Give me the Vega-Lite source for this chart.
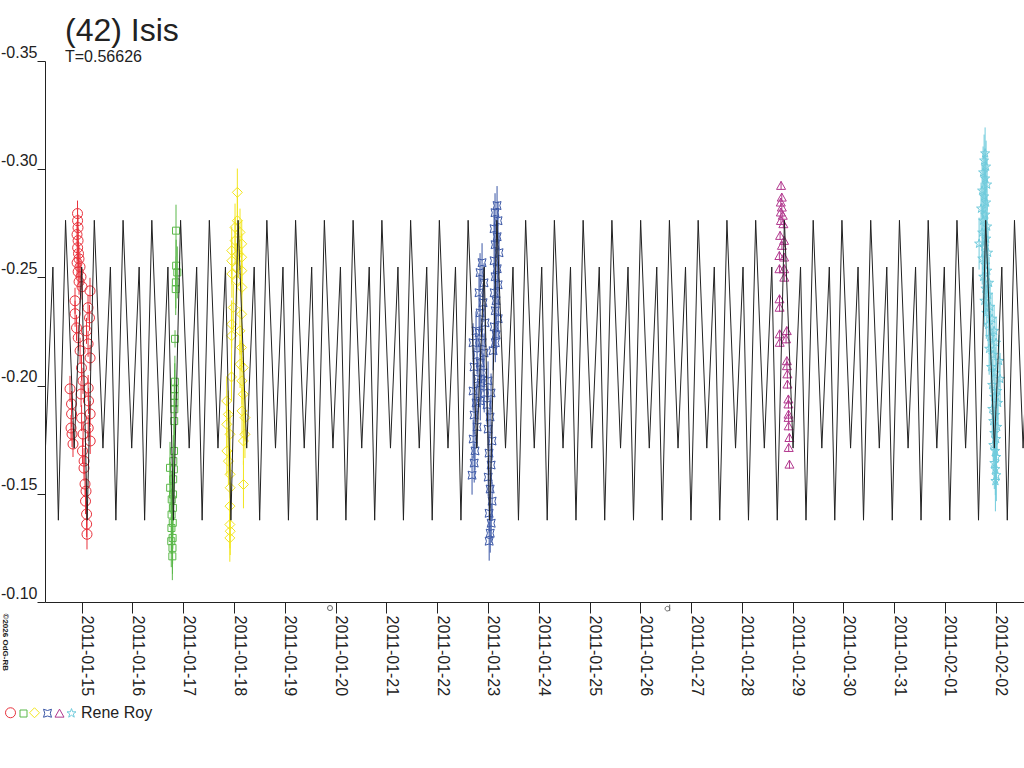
{
"$schema":"https://vega.github.io/schema/vega-lite/v6.json",
"width":979,"height":541,
"autosize":{"type":"none"},
"padding":{"left":45,"top":61,"right":0,"bottom":166},
"background":"white",
"config":{"view":{"stroke":null},"font":"Liberation Sans"},
"title":{"text":"(42) Isis","subtitle":"T=0.56626","anchor":"start","frame":"group","orient":"top","fontSize":32,"fontWeight":"normal","font":"Liberation Sans","color":"#222222","subtitleFontSize":16,"subtitleFont":"Liberation Sans","subtitleColor":"#222222","subtitlePadding":1,"offset":-22,"dx":20},
"datasets":{
"obs":[
{"time":"2011-01-14T22:01","mag":-0.2795,"err":0.006,"night":"2011-01-14"},
{"time":"2011-01-14T22:03","mag":-0.2762,"err":0.006,"night":"2011-01-14"},
{"time":"2011-01-14T22:15","mag":-0.2730,"err":0.006,"night":"2011-01-14"},
{"time":"2011-01-14T21:47","mag":-0.2698,"err":0.006,"night":"2011-01-14"},
{"time":"2011-01-14T22:17","mag":-0.2670,"err":0.006,"night":"2011-01-14"},
{"time":"2011-01-14T22:05","mag":-0.2637,"err":0.006,"night":"2011-01-14"},
{"time":"2011-01-14T22:29","mag":-0.2610,"err":0.006,"night":"2011-01-14"},
{"time":"2011-01-14T22:43","mag":-0.2586,"err":0.006,"night":"2011-01-14"},
{"time":"2011-01-14T21:49","mag":-0.2568,"err":0.006,"night":"2011-01-14"},
{"time":"2011-01-14T23:12","mag":-0.2549,"err":0.006,"night":"2011-01-14"},
{"time":"2011-01-14T22:19","mag":-0.2526,"err":0.006,"night":"2011-01-14"},
{"time":"2011-01-14T23:40","mag":-0.2503,"err":0.006,"night":"2011-01-14"},
{"time":"2011-01-14T22:45","mag":-0.2480,"err":0.006,"night":"2011-01-14"},
{"time":"2011-01-15T00:09","mag":-0.2457,"err":0.006,"night":"2011-01-14"},
{"time":"2011-01-14T20:50","mag":-0.2392,"err":0.006,"night":"2011-01-14"},
{"time":"2011-01-14T20:52","mag":-0.2332,"err":0.006,"night":"2011-01-14"},
{"time":"2011-01-14T21:33","mag":-0.2267,"err":0.006,"night":"2011-01-14"},
{"time":"2011-01-14T22:21","mag":-0.2221,"err":0.006,"night":"2011-01-14"},
{"time":"2011-01-15T03:55","mag":-0.2438,"err":0.006,"night":"2011-01-14"},
{"time":"2011-01-15T02:59","mag":-0.2360,"err":0.006,"night":"2011-01-14"},
{"time":"2011-01-15T03:41","mag":-0.2313,"err":0.006,"night":"2011-01-14"},
{"time":"2011-01-15T02:16","mag":-0.2253,"err":0.006,"night":"2011-01-14"},
{"time":"2011-01-15T03:01","mag":-0.2193,"err":0.006,"night":"2011-01-14"},
{"time":"2011-01-15T03:57","mag":-0.2128,"err":0.006,"night":"2011-01-14"},
{"time":"2011-01-14T23:14","mag":-0.2161,"err":0.006,"night":"2011-01-14"},
{"time":"2011-01-14T23:54","mag":-0.2082,"err":0.006,"night":"2011-01-14"},
{"time":"2011-01-15T00:37","mag":-0.2022,"err":0.006,"night":"2011-01-14"},
{"time":"2011-01-14T23:42","mag":-0.1961,"err":0.006,"night":"2011-01-14"},
{"time":"2011-01-15T03:03","mag":-0.1989,"err":0.006,"night":"2011-01-14"},
{"time":"2011-01-15T03:13","mag":-0.1929,"err":0.006,"night":"2011-01-14"},
{"time":"2011-01-15T03:59","mag":-0.1869,"err":0.006,"night":"2011-01-14"},
{"time":"2011-01-15T03:05","mag":-0.1804,"err":0.006,"night":"2011-01-14"},
{"time":"2011-01-15T04:01","mag":-0.1744,"err":0.006,"night":"2011-01-14"},
{"time":"2011-01-14T18:28","mag":-0.1985,"err":0.006,"night":"2011-01-14"},
{"time":"2011-01-14T19:11","mag":-0.1915,"err":0.006,"night":"2011-01-14"},
{"time":"2011-01-14T19:13","mag":-0.1869,"err":0.006,"night":"2011-01-14"},
{"time":"2011-01-14T18:57","mag":-0.1804,"err":0.006,"night":"2011-01-14"},
{"time":"2011-01-14T19:25","mag":-0.1776,"err":0.006,"night":"2011-01-14"},
{"time":"2011-01-14T19:53","mag":-0.1730,"err":0.006,"night":"2011-01-14"},
{"time":"2011-01-14T23:56","mag":-0.1850,"err":0.006,"night":"2011-01-14"},
{"time":"2011-01-15T00:39","mag":-0.1776,"err":0.006,"night":"2011-01-14"},
{"time":"2011-01-15T00:23","mag":-0.1698,"err":0.006,"night":"2011-01-14"},
{"time":"2011-01-15T01:05","mag":-0.1619,"err":0.006,"night":"2011-01-14"},
{"time":"2011-01-15T01:34","mag":-0.1545,"err":0.006,"night":"2011-01-14"},
{"time":"2011-01-15T01:48","mag":-0.1466,"err":0.006,"night":"2011-01-14"},
{"time":"2011-01-15T02:18","mag":-0.1406,"err":0.006,"night":"2011-01-14"},
{"time":"2011-01-15T02:20","mag":-0.1360,"err":0.006,"night":"2011-01-14"},
{"time":"2011-01-15T02:30","mag":-0.1313,"err":0.007,"night":"2011-01-14"},
{"time":"2011-01-15T01:07","mag":-0.1651,"err":0.006,"night":"2011-01-14"},
{"time":"2011-01-15T02:02","mag":-0.1512,"err":0.006,"night":"2011-01-14"},
{"time":"2011-01-16T20:34","mag":-0.2716,"err":0.012,"night":"2011-01-16"},
{"time":"2011-01-16T20:38","mag":-0.2554,"err":0.012,"night":"2011-01-16"},
{"time":"2011-01-16T21:11","mag":-0.2523,"err":0.012,"night":"2011-01-16"},
{"time":"2011-01-16T20:30","mag":-0.2477,"err":0.012,"night":"2011-01-16"},
{"time":"2011-01-16T20:26","mag":-0.2446,"err":0.012,"night":"2011-01-16"},
{"time":"2011-01-16T20:06","mag":-0.2216,"err":0.004,"night":"2011-01-16"},
{"time":"2011-01-16T20:02","mag":-0.2018,"err":0.012,"night":"2011-01-16"},
{"time":"2011-01-16T19:58","mag":-0.1983,"err":0.012,"night":"2011-01-16"},
{"time":"2011-01-16T19:54","mag":-0.1952,"err":0.012,"night":"2011-01-16"},
{"time":"2011-01-16T19:50","mag":-0.1921,"err":0.012,"night":"2011-01-16"},
{"time":"2011-01-16T19:46","mag":-0.1891,"err":0.012,"night":"2011-01-16"},
{"time":"2011-01-16T19:42","mag":-0.1836,"err":0.012,"night":"2011-01-16"},
{"time":"2011-01-16T19:38","mag":-0.1698,"err":0.012,"night":"2011-01-16"},
{"time":"2011-01-16T19:18","mag":-0.1651,"err":0.012,"night":"2011-01-16"},
{"time":"2011-01-16T17:44","mag":-0.1620,"err":0.012,"night":"2011-01-16"},
{"time":"2011-01-16T19:34","mag":-0.1613,"err":0.012,"night":"2011-01-16"},
{"time":"2011-01-16T19:14","mag":-0.1567,"err":0.012,"night":"2011-01-16"},
{"time":"2011-01-16T17:48","mag":-0.1528,"err":0.012,"night":"2011-01-16"},
{"time":"2011-01-16T19:10","mag":-0.1497,"err":0.012,"night":"2011-01-16"},
{"time":"2011-01-16T18:32","mag":-0.1474,"err":0.012,"night":"2011-01-16"},
{"time":"2011-01-16T19:06","mag":-0.1435,"err":0.012,"night":"2011-01-16"},
{"time":"2011-01-16T18:28","mag":-0.1404,"err":0.012,"night":"2011-01-16"},
{"time":"2011-01-16T19:02","mag":-0.1366,"err":0.012,"night":"2011-01-16"},
{"time":"2011-01-16T18:24","mag":-0.1342,"err":0.012,"night":"2011-01-16"},
{"time":"2011-01-16T18:58","mag":-0.1296,"err":0.012,"night":"2011-01-16"},
{"time":"2011-01-16T18:20","mag":-0.1281,"err":0.012,"night":"2011-01-16"},
{"time":"2011-01-16T18:54","mag":-0.1250,"err":0.012,"night":"2011-01-16"},
{"time":"2011-01-16T18:50","mag":-0.1211,"err":0.011,"night":"2011-01-16"},
{"time":"2011-01-18T01:33","mag":-0.2893,"err":0.011,"night":"2011-01-17"},
{"time":"2011-01-18T01:35","mag":-0.2762,"err":0.011,"night":"2011-01-17"},
{"time":"2011-01-18T00:28","mag":-0.2731,"err":0.011,"night":"2011-01-17"},
{"time":"2011-01-18T02:49","mag":-0.2708,"err":0.011,"night":"2011-01-17"},
{"time":"2011-01-18T00:30","mag":-0.2670,"err":0.011,"night":"2011-01-17"},
{"time":"2011-01-18T03:38","mag":-0.2655,"err":0.011,"night":"2011-01-17"},
{"time":"2011-01-17T22:54","mag":-0.2624,"err":0.011,"night":"2011-01-17"},
{"time":"2011-01-18T02:01","mag":-0.2608,"err":0.011,"night":"2011-01-17"},
{"time":"2011-01-18T03:36","mag":-0.2593,"err":0.011,"night":"2011-01-17"},
{"time":"2011-01-17T22:56","mag":-0.2577,"err":0.011,"night":"2011-01-17"},
{"time":"2011-01-18T01:16","mag":-0.2546,"err":0.011,"night":"2011-01-17"},
{"time":"2011-01-18T03:40","mag":-0.2531,"err":0.011,"night":"2011-01-17"},
{"time":"2011-01-17T22:58","mag":-0.2516,"err":0.011,"night":"2011-01-17"},
{"time":"2011-01-18T01:18","mag":-0.2485,"err":0.011,"night":"2011-01-17"},
{"time":"2011-01-18T03:42","mag":-0.2454,"err":0.011,"night":"2011-01-17"},
{"time":"2011-01-17T23:39","mag":-0.2361,"err":0.011,"night":"2011-01-17"},
{"time":"2011-01-18T03:34","mag":-0.2330,"err":0.011,"night":"2011-01-17"},
{"time":"2011-01-17T22:52","mag":-0.2284,"err":0.011,"night":"2011-01-17"},
{"time":"2011-01-18T02:47","mag":-0.2253,"err":0.011,"night":"2011-01-17"},
{"time":"2011-01-17T22:50","mag":-0.2230,"err":0.011,"night":"2011-01-17"},
{"time":"2011-01-18T03:32","mag":-0.2176,"err":0.011,"night":"2011-01-17"},
{"time":"2011-01-18T02:51","mag":-0.2099,"err":0.011,"night":"2011-01-17"},
{"time":"2011-01-17T22:48","mag":-0.2040,"err":0.011,"night":"2011-01-17"},
{"time":"2011-01-18T04:23","mag":-0.2083,"err":0.011,"night":"2011-01-17"},
{"time":"2011-01-18T03:44","mag":-0.2022,"err":0.011,"night":"2011-01-17"},
{"time":"2011-01-18T04:21","mag":-0.1960,"err":0.011,"night":"2011-01-17"},
{"time":"2011-01-17T20:32","mag":-0.1929,"err":0.011,"night":"2011-01-17"},
{"time":"2011-01-17T21:18","mag":-0.1867,"err":0.011,"night":"2011-01-17"},
{"time":"2011-01-18T03:46","mag":-0.1883,"err":0.011,"night":"2011-01-17"},
{"time":"2011-01-18T05:11","mag":-0.1852,"err":0.011,"night":"2011-01-17"},
{"time":"2011-01-17T20:34","mag":-0.1821,"err":0.011,"night":"2011-01-17"},
{"time":"2011-01-18T05:09","mag":-0.1775,"err":0.011,"night":"2011-01-17"},
{"time":"2011-01-17T22:06","mag":-0.1775,"err":0.011,"night":"2011-01-17"},
{"time":"2011-01-18T04:25","mag":-0.1744,"err":0.011,"night":"2011-01-17"},
{"time":"2011-01-17T20:36","mag":-0.1698,"err":0.011,"night":"2011-01-17"},
{"time":"2011-01-17T21:20","mag":-0.1651,"err":0.011,"night":"2011-01-17"},
{"time":"2011-01-17T22:08","mag":-0.1590,"err":0.011,"night":"2011-01-17"},
{"time":"2011-01-18T04:27","mag":-0.1543,"err":0.011,"night":"2011-01-17"},
{"time":"2011-01-17T22:10","mag":-0.1528,"err":0.011,"night":"2011-01-17"},
{"time":"2011-01-17T22:04","mag":-0.1443,"err":0.011,"night":"2011-01-17"},
{"time":"2011-01-17T22:02","mag":-0.1358,"err":0.011,"night":"2011-01-17"},
{"time":"2011-01-17T22:12","mag":-0.1327,"err":0.011,"night":"2011-01-17"},
{"time":"2011-01-17T22:00","mag":-0.1296,"err":0.011,"night":"2011-01-17"},
{"time":"2011-01-23T04:18","mag":-0.2832,"err":0.009,"night":"2011-01-22"},
{"time":"2011-01-23T03:21","mag":-0.2799,"err":0.009,"night":"2011-01-22"},
{"time":"2011-01-23T04:46","mag":-0.2762,"err":0.009,"night":"2011-01-22"},
{"time":"2011-01-23T02:53","mag":-0.2725,"err":0.009,"night":"2011-01-22"},
{"time":"2011-01-23T04:20","mag":-0.2688,"err":0.009,"night":"2011-01-22"},
{"time":"2011-01-23T03:23","mag":-0.2651,"err":0.009,"night":"2011-01-22"},
{"time":"2011-01-23T05:15","mag":-0.2614,"err":0.009,"night":"2011-01-22"},
{"time":"2011-01-23T02:55","mag":-0.2577,"err":0.009,"night":"2011-01-22"},
{"time":"2011-01-23T04:22","mag":-0.2540,"err":0.009,"night":"2011-01-22"},
{"time":"2011-01-23T03:25","mag":-0.2503,"err":0.009,"night":"2011-01-22"},
{"time":"2011-01-23T04:48","mag":-0.2466,"err":0.009,"night":"2011-01-22"},
{"time":"2011-01-23T02:57","mag":-0.2429,"err":0.009,"night":"2011-01-22"},
{"time":"2011-01-23T03:50","mag":-0.2392,"err":0.009,"night":"2011-01-22"},
{"time":"2011-01-23T03:27","mag":-0.2346,"err":0.009,"night":"2011-01-22"},
{"time":"2011-01-23T04:50","mag":-0.2309,"err":0.009,"night":"2011-01-22"},
{"time":"2011-01-23T02:59","mag":-0.2272,"err":0.009,"night":"2011-01-22"},
{"time":"2011-01-23T03:52","mag":-0.2235,"err":0.009,"night":"2011-01-22"},
{"time":"2011-01-23T03:29","mag":-0.2198,"err":0.009,"night":"2011-01-22"},
{"time":"2011-01-23T02:25","mag":-0.2161,"err":0.009,"night":"2011-01-22"},
{"time":"2011-01-22T21:13","mag":-0.2568,"err":0.009,"night":"2011-01-22"},
{"time":"2011-01-22T20:16","mag":-0.2522,"err":0.009,"night":"2011-01-22"},
{"time":"2011-01-22T22:09","mag":-0.2475,"err":0.009,"night":"2011-01-22"},
{"time":"2011-01-22T19:47","mag":-0.2429,"err":0.009,"night":"2011-01-22"},
{"time":"2011-01-22T21:41","mag":-0.2383,"err":0.009,"night":"2011-01-22"},
{"time":"2011-01-22T20:18","mag":-0.2336,"err":0.009,"night":"2011-01-22"},
{"time":"2011-01-22T22:38","mag":-0.2290,"err":0.009,"night":"2011-01-22"},
{"time":"2011-01-22T19:49","mag":-0.2244,"err":0.009,"night":"2011-01-22"},
{"time":"2011-01-22T21:15","mag":-0.2198,"err":0.009,"night":"2011-01-22"},
{"time":"2011-01-22T22:11","mag":-0.2151,"err":0.009,"night":"2011-01-22"},
{"time":"2011-01-22T20:20","mag":-0.2105,"err":0.009,"night":"2011-01-22"},
{"time":"2011-01-22T21:43","mag":-0.2059,"err":0.009,"night":"2011-01-22"},
{"time":"2011-01-22T20:44","mag":-0.2012,"err":0.009,"night":"2011-01-22"},
{"time":"2011-01-22T22:13","mag":-0.1966,"err":0.009,"night":"2011-01-22"},
{"time":"2011-01-22T20:22","mag":-0.1929,"err":0.009,"night":"2011-01-22"},
{"time":"2011-01-22T18:22","mag":-0.2253,"err":0.009,"night":"2011-01-22"},
{"time":"2011-01-22T16:57","mag":-0.2198,"err":0.009,"night":"2011-01-22"},
{"time":"2011-01-22T18:51","mag":-0.2142,"err":0.009,"night":"2011-01-22"},
{"time":"2011-01-22T17:26","mag":-0.2086,"err":0.009,"night":"2011-01-22"},
{"time":"2011-01-22T19:19","mag":-0.2031,"err":0.009,"night":"2011-01-22"},
{"time":"2011-01-22T16:59","mag":-0.1975,"err":0.009,"night":"2011-01-22"},
{"time":"2011-01-22T18:24","mag":-0.1920,"err":0.009,"night":"2011-01-22"},
{"time":"2011-01-22T17:28","mag":-0.1864,"err":0.009,"night":"2011-01-22"},
{"time":"2011-01-22T18:53","mag":-0.1809,"err":0.009,"night":"2011-01-22"},
{"time":"2011-01-22T17:01","mag":-0.1753,"err":0.009,"night":"2011-01-22"},
{"time":"2011-01-22T17:54","mag":-0.1698,"err":0.009,"night":"2011-01-22"},
{"time":"2011-01-22T17:30","mag":-0.1642,"err":0.009,"night":"2011-01-22"},
{"time":"2011-01-22T16:29","mag":-0.1586,"err":0.009,"night":"2011-01-22"},
{"time":"2011-01-23T00:03","mag":-0.2022,"err":0.009,"night":"2011-01-22"},
{"time":"2011-01-23T01:28","mag":-0.1966,"err":0.009,"night":"2011-01-22"},
{"time":"2011-01-22T23:34","mag":-0.1911,"err":0.009,"night":"2011-01-22"},
{"time":"2011-01-23T01:00","mag":-0.1855,"err":0.009,"night":"2011-01-22"},
{"time":"2011-01-23T00:05","mag":-0.1799,"err":0.009,"night":"2011-01-22"},
{"time":"2011-01-23T01:56","mag":-0.1744,"err":0.009,"night":"2011-01-22"},
{"time":"2011-01-23T00:31","mag":-0.1688,"err":0.009,"night":"2011-01-22"},
{"time":"2011-01-23T01:30","mag":-0.1633,"err":0.009,"night":"2011-01-22"},
{"time":"2011-01-23T00:07","mag":-0.1577,"err":0.009,"night":"2011-01-22"},
{"time":"2011-01-23T01:02","mag":-0.1522,"err":0.009,"night":"2011-01-22"},
{"time":"2011-01-23T01:58","mag":-0.1466,"err":0.009,"night":"2011-01-22"},
{"time":"2011-01-23T00:33","mag":-0.1410,"err":0.009,"night":"2011-01-22"},
{"time":"2011-01-23T01:32","mag":-0.1364,"err":0.009,"night":"2011-01-22"},
{"time":"2011-01-23T01:04","mag":-0.1318,"err":0.009,"night":"2011-01-22"},
{"time":"2011-01-23T00:35","mag":-0.1281,"err":0.009,"night":"2011-01-22"},
{"time":"2011-01-28T18:32","mag":-0.2924,"err":0.002,"night":"2011-01-28"},
{"time":"2011-01-28T18:52","mag":-0.2870,"err":0.002,"night":"2011-01-28"},
{"time":"2011-01-28T18:24","mag":-0.2847,"err":0.002,"night":"2011-01-28"},
{"time":"2011-01-28T18:54","mag":-0.2824,"err":0.002,"night":"2011-01-28"},
{"time":"2011-01-28T18:26","mag":-0.2801,"err":0.002,"night":"2011-01-28"},
{"time":"2011-01-28T19:20","mag":-0.2786,"err":0.002,"night":"2011-01-28"},
{"time":"2011-01-28T18:28","mag":-0.2762,"err":0.002,"night":"2011-01-28"},
{"time":"2011-01-28T19:37","mag":-0.2747,"err":0.002,"night":"2011-01-28"},
{"time":"2011-01-28T18:04","mag":-0.2693,"err":0.002,"night":"2011-01-28"},
{"time":"2011-01-28T19:57","mag":-0.2670,"err":0.002,"night":"2011-01-28"},
{"time":"2011-01-28T18:56","mag":-0.2647,"err":0.002,"night":"2011-01-28"},
{"time":"2011-01-28T17:44","mag":-0.2600,"err":0.002,"night":"2011-01-28"},
{"time":"2011-01-28T19:59","mag":-0.2593,"err":0.002,"night":"2011-01-28"},
{"time":"2011-01-28T17:46","mag":-0.2539,"err":0.002,"night":"2011-01-28"},
{"time":"2011-01-28T20:01","mag":-0.2539,"err":0.002,"night":"2011-01-28"},
{"time":"2011-01-28T20:03","mag":-0.2500,"err":0.002,"night":"2011-01-28"},
{"time":"2011-01-28T17:48","mag":-0.2400,"err":0.002,"night":"2011-01-28"},
{"time":"2011-01-28T17:50","mag":-0.2361,"err":0.002,"night":"2011-01-28"},
{"time":"2011-01-28T17:52","mag":-0.2238,"err":0.002,"night":"2011-01-28"},
{"time":"2011-01-28T21:14","mag":-0.2253,"err":0.002,"night":"2011-01-28"},
{"time":"2011-01-28T17:54","mag":-0.2199,"err":0.002,"night":"2011-01-28"},
{"time":"2011-01-28T20:54","mag":-0.2215,"err":0.002,"night":"2011-01-28"},
{"time":"2011-01-28T21:16","mag":-0.2114,"err":0.002,"night":"2011-01-28"},
{"time":"2011-01-28T21:18","mag":-0.2091,"err":0.002,"night":"2011-01-28"},
{"time":"2011-01-28T21:31","mag":-0.2053,"err":0.002,"night":"2011-01-28"},
{"time":"2011-01-28T21:33","mag":-0.2006,"err":0.002,"night":"2011-01-28"},
{"time":"2011-01-28T21:59","mag":-0.1937,"err":0.002,"night":"2011-01-28"},
{"time":"2011-01-28T22:01","mag":-0.1914,"err":0.002,"night":"2011-01-28"},
{"time":"2011-01-28T22:03","mag":-0.1867,"err":0.002,"night":"2011-01-28"},
{"time":"2011-01-28T22:05","mag":-0.1852,"err":0.002,"night":"2011-01-28"},
{"time":"2011-01-28T22:07","mag":-0.1813,"err":0.002,"night":"2011-01-28"},
{"time":"2011-01-28T22:28","mag":-0.1759,"err":0.002,"night":"2011-01-28"},
{"time":"2011-01-28T22:09","mag":-0.1713,"err":0.002,"night":"2011-01-28"},
{"time":"2011-01-28T22:30","mag":-0.1636,"err":0.002,"night":"2011-01-28"},
{"time":"2011-02-01T18:58","mag":-0.3073,"err":0.012,"night":"2011-02-01"},
{"time":"2011-02-01T18:30","mag":-0.3040,"err":0.012,"night":"2011-02-01"},
{"time":"2011-02-01T19:26","mag":-0.3012,"err":0.012,"night":"2011-02-01"},
{"time":"2011-02-01T18:01","mag":-0.2985,"err":0.012,"night":"2011-02-01"},
{"time":"2011-02-01T19:00","mag":-0.2957,"err":0.012,"night":"2011-02-01"},
{"time":"2011-02-01T19:55","mag":-0.2929,"err":0.012,"night":"2011-02-01"},
{"time":"2011-02-01T17:33","mag":-0.2901,"err":0.012,"night":"2011-02-01"},
{"time":"2011-02-01T18:32","mag":-0.2874,"err":0.012,"night":"2011-02-01"},
{"time":"2011-02-01T19:28","mag":-0.2846,"err":0.012,"night":"2011-02-01"},
{"time":"2011-02-01T17:04","mag":-0.2818,"err":0.012,"night":"2011-02-01"},
{"time":"2011-02-01T19:02","mag":-0.2790,"err":0.012,"night":"2011-02-01"},
{"time":"2011-02-01T18:03","mag":-0.2762,"err":0.012,"night":"2011-02-01"},
{"time":"2011-02-01T19:57","mag":-0.2735,"err":0.012,"night":"2011-02-01"},
{"time":"2011-02-01T17:35","mag":-0.2707,"err":0.012,"night":"2011-02-01"},
{"time":"2011-02-01T16:08","mag":-0.2656,"err":0.012,"night":"2011-02-01"},
{"time":"2011-02-01T19:30","mag":-0.2679,"err":0.012,"night":"2011-02-01"},
{"time":"2011-02-01T18:34","mag":-0.2642,"err":0.012,"night":"2011-02-01"},
{"time":"2011-02-01T20:23","mag":-0.2614,"err":0.012,"night":"2011-02-01"},
{"time":"2011-02-01T17:37","mag":-0.2587,"err":0.012,"night":"2011-02-01"},
{"time":"2011-02-01T19:04","mag":-0.2559,"err":0.012,"night":"2011-02-01"},
{"time":"2011-02-01T19:59","mag":-0.2531,"err":0.012,"night":"2011-02-01"},
{"time":"2011-02-01T18:05","mag":-0.2503,"err":0.012,"night":"2011-02-01"},
{"time":"2011-02-01T20:51","mag":-0.2475,"err":0.012,"night":"2011-02-01"},
{"time":"2011-02-01T19:06","mag":-0.2448,"err":0.012,"night":"2011-02-01"},
{"time":"2011-02-01T20:25","mag":-0.2420,"err":0.012,"night":"2011-02-01"},
{"time":"2011-02-01T18:36","mag":-0.2392,"err":0.012,"night":"2011-02-01"},
{"time":"2011-02-01T21:20","mag":-0.2364,"err":0.012,"night":"2011-02-01"},
{"time":"2011-02-01T19:32","mag":-0.2336,"err":0.012,"night":"2011-02-01"},
{"time":"2011-02-01T22:16","mag":-0.2309,"err":0.012,"night":"2011-02-01"},
{"time":"2011-02-01T20:27","mag":-0.2281,"err":0.012,"night":"2011-02-01"},
{"time":"2011-02-01T23:13","mag":-0.2253,"err":0.012,"night":"2011-02-01"},
{"time":"2011-02-01T21:22","mag":-0.2225,"err":0.012,"night":"2011-02-01"},
{"time":"2011-02-02T00:10","mag":-0.2198,"err":0.012,"night":"2011-02-01"},
{"time":"2011-02-01T20:53","mag":-0.2170,"err":0.012,"night":"2011-02-01"},
{"time":"2011-02-01T22:45","mag":-0.2142,"err":0.012,"night":"2011-02-01"},
{"time":"2011-02-02T01:35","mag":-0.2114,"err":0.012,"night":"2011-02-01"},
{"time":"2011-02-01T21:48","mag":-0.2086,"err":0.012,"night":"2011-02-01"},
{"time":"2011-02-01T23:42","mag":-0.2059,"err":0.012,"night":"2011-02-01"},
{"time":"2011-02-02T02:03","mag":-0.2031,"err":0.012,"night":"2011-02-01"},
{"time":"2011-02-01T22:18","mag":-0.2003,"err":0.012,"night":"2011-02-01"},
{"time":"2011-02-02T00:38","mag":-0.1975,"err":0.012,"night":"2011-02-01"},
{"time":"2011-02-01T23:15","mag":-0.1948,"err":0.012,"night":"2011-02-01"},
{"time":"2011-02-02T01:07","mag":-0.1920,"err":0.012,"night":"2011-02-01"},
{"time":"2011-02-01T22:20","mag":-0.1892,"err":0.012,"night":"2011-02-01"},
{"time":"2011-02-01T23:44","mag":-0.1864,"err":0.012,"night":"2011-02-01"},
{"time":"2011-02-01T22:47","mag":-0.1836,"err":0.012,"night":"2011-02-01"},
{"time":"2011-02-02T00:40","mag":-0.1809,"err":0.012,"night":"2011-02-01"},
{"time":"2011-02-01T23:17","mag":-0.1781,"err":0.012,"night":"2011-02-01"},
{"time":"2011-02-02T00:12","mag":-0.1753,"err":0.012,"night":"2011-02-01"},
{"time":"2011-02-01T22:49","mag":-0.1725,"err":0.012,"night":"2011-02-01"},
{"time":"2011-02-01T23:46","mag":-0.1698,"err":0.012,"night":"2011-02-01"},
{"time":"2011-02-02T00:14","mag":-0.1670,"err":0.012,"night":"2011-02-01"},
{"time":"2011-02-01T23:19","mag":-0.1642,"err":0.012,"night":"2011-02-01"},
{"time":"2011-02-01T23:48","mag":-0.1614,"err":0.012,"night":"2011-02-01"},
{"time":"2011-02-02T00:16","mag":-0.1586,"err":0.012,"night":"2011-02-01"},
{"time":"2011-02-01T23:50","mag":-0.1559,"err":0.014,"night":"2011-02-01"}
],
"model":[
{"time":"2011-01-14T02:47","mag":-0.2764},{"time":"2011-01-14T06:51","mag":-0.1711},{"time":"2011-01-14T10:23","mag":-0.2548},{"time":"2011-01-14T12:58","mag":-0.1378},
{"time":"2011-01-14T16:22","mag":-0.2764},{"time":"2011-01-14T20:27","mag":-0.1711},{"time":"2011-01-14T23:59","mag":-0.2548},{"time":"2011-01-15T02:34","mag":-0.1378},
{"time":"2011-01-15T05:57","mag":-0.2764},{"time":"2011-01-15T10:02","mag":-0.1711},{"time":"2011-01-15T13:34","mag":-0.2548},{"time":"2011-01-15T16:09","mag":-0.1378},
{"time":"2011-01-15T19:33","mag":-0.2764},{"time":"2011-01-15T23:38","mag":-0.1711},{"time":"2011-01-16T03:09","mag":-0.2548},{"time":"2011-01-16T05:44","mag":-0.1378},
{"time":"2011-01-16T09:08","mag":-0.2764},{"time":"2011-01-16T13:13","mag":-0.1711},{"time":"2011-01-16T16:45","mag":-0.2548},{"time":"2011-01-16T19:20","mag":-0.1378},
{"time":"2011-01-16T22:44","mag":-0.2764},{"time":"2011-01-17T02:48","mag":-0.1711},{"time":"2011-01-17T06:20","mag":-0.2548},{"time":"2011-01-17T08:55","mag":-0.1378},
{"time":"2011-01-17T12:19","mag":-0.2764},{"time":"2011-01-17T16:24","mag":-0.1711},{"time":"2011-01-17T19:56","mag":-0.2548},{"time":"2011-01-17T22:31","mag":-0.1378},
{"time":"2011-01-18T01:55","mag":-0.2764},{"time":"2011-01-18T05:59","mag":-0.1711},{"time":"2011-01-18T09:31","mag":-0.2548},{"time":"2011-01-18T12:06","mag":-0.1378},
{"time":"2011-01-18T15:30","mag":-0.2764},{"time":"2011-01-18T19:35","mag":-0.1711},{"time":"2011-01-18T23:07","mag":-0.2548},{"time":"2011-01-19T01:42","mag":-0.1378},
{"time":"2011-01-19T05:05","mag":-0.2764},{"time":"2011-01-19T09:10","mag":-0.1711},{"time":"2011-01-19T12:42","mag":-0.2548},{"time":"2011-01-19T15:17","mag":-0.1378},
{"time":"2011-01-19T18:41","mag":-0.2764},{"time":"2011-01-19T22:45","mag":-0.1711},{"time":"2011-01-20T02:17","mag":-0.2548},{"time":"2011-01-20T04:52","mag":-0.1378},
{"time":"2011-01-20T08:16","mag":-0.2764},{"time":"2011-01-20T12:21","mag":-0.1711},{"time":"2011-01-20T15:53","mag":-0.2548},{"time":"2011-01-20T18:28","mag":-0.1378},
{"time":"2011-01-20T21:52","mag":-0.2764},{"time":"2011-01-21T01:56","mag":-0.1711},{"time":"2011-01-21T05:28","mag":-0.2548},{"time":"2011-01-21T08:03","mag":-0.1378},
{"time":"2011-01-21T11:27","mag":-0.2764},{"time":"2011-01-21T15:32","mag":-0.1711},{"time":"2011-01-21T19:04","mag":-0.2548},{"time":"2011-01-21T21:39","mag":-0.1378},
{"time":"2011-01-22T01:02","mag":-0.2764},{"time":"2011-01-22T05:07","mag":-0.1711},{"time":"2011-01-22T08:39","mag":-0.2548},{"time":"2011-01-22T11:14","mag":-0.1378},
{"time":"2011-01-22T14:38","mag":-0.2764},{"time":"2011-01-22T18:43","mag":-0.1711},{"time":"2011-01-22T22:14","mag":-0.2548},{"time":"2011-01-23T00:49","mag":-0.1378},
{"time":"2011-01-23T04:13","mag":-0.2764},{"time":"2011-01-23T08:18","mag":-0.1711},{"time":"2011-01-23T11:50","mag":-0.2548},{"time":"2011-01-23T14:25","mag":-0.1378},
{"time":"2011-01-23T17:49","mag":-0.2764},{"time":"2011-01-23T21:53","mag":-0.1711},{"time":"2011-01-24T01:25","mag":-0.2548},{"time":"2011-01-24T04:00","mag":-0.1378},
{"time":"2011-01-24T07:24","mag":-0.2764},{"time":"2011-01-24T11:29","mag":-0.1711},{"time":"2011-01-24T15:01","mag":-0.2548},{"time":"2011-01-24T17:36","mag":-0.1378},
{"time":"2011-01-24T20:59","mag":-0.2764},{"time":"2011-01-25T01:04","mag":-0.1711},{"time":"2011-01-25T04:36","mag":-0.2548},{"time":"2011-01-25T07:11","mag":-0.1378},
{"time":"2011-01-25T10:35","mag":-0.2764},{"time":"2011-01-25T14:40","mag":-0.1711},{"time":"2011-01-25T18:12","mag":-0.2548},{"time":"2011-01-25T20:47","mag":-0.1378},
{"time":"2011-01-26T00:10","mag":-0.2764},{"time":"2011-01-26T04:15","mag":-0.1711},{"time":"2011-01-26T07:47","mag":-0.2548},{"time":"2011-01-26T10:22","mag":-0.1378},
{"time":"2011-01-26T13:46","mag":-0.2764},{"time":"2011-01-26T17:50","mag":-0.1711},{"time":"2011-01-26T21:22","mag":-0.2548},{"time":"2011-01-26T23:57","mag":-0.1378},
{"time":"2011-01-27T03:21","mag":-0.2764},{"time":"2011-01-27T07:26","mag":-0.1711},{"time":"2011-01-27T10:58","mag":-0.2548},{"time":"2011-01-27T13:33","mag":-0.1378},
{"time":"2011-01-27T16:57","mag":-0.2764},{"time":"2011-01-27T21:01","mag":-0.1711},{"time":"2011-01-28T00:33","mag":-0.2548},{"time":"2011-01-28T03:08","mag":-0.1378},
{"time":"2011-01-28T06:32","mag":-0.2764},{"time":"2011-01-28T10:37","mag":-0.1711},{"time":"2011-01-28T14:09","mag":-0.2548},{"time":"2011-01-28T16:44","mag":-0.1378},
{"time":"2011-01-28T20:07","mag":-0.2764},{"time":"2011-01-29T00:12","mag":-0.1711},{"time":"2011-01-29T03:44","mag":-0.2548},{"time":"2011-01-29T06:19","mag":-0.1378},
{"time":"2011-01-29T09:43","mag":-0.2764},{"time":"2011-01-29T13:48","mag":-0.1711},{"time":"2011-01-29T17:20","mag":-0.2548},{"time":"2011-01-29T19:55","mag":-0.1378},
{"time":"2011-01-29T23:18","mag":-0.2764},{"time":"2011-01-30T03:23","mag":-0.1711},{"time":"2011-01-30T06:55","mag":-0.2548},{"time":"2011-01-30T09:30","mag":-0.1378},
{"time":"2011-01-30T12:54","mag":-0.2764},{"time":"2011-01-30T16:58","mag":-0.1711},{"time":"2011-01-30T20:30","mag":-0.2548},{"time":"2011-01-30T23:05","mag":-0.1378},
{"time":"2011-01-31T02:29","mag":-0.2764},{"time":"2011-01-31T06:34","mag":-0.1711},{"time":"2011-01-31T10:06","mag":-0.2548},{"time":"2011-01-31T12:41","mag":-0.1378},
{"time":"2011-01-31T16:04","mag":-0.2764},{"time":"2011-01-31T20:09","mag":-0.1711},{"time":"2011-01-31T23:41","mag":-0.2548},{"time":"2011-02-01T02:16","mag":-0.1378},
{"time":"2011-02-01T05:40","mag":-0.2764},{"time":"2011-02-01T09:45","mag":-0.1711},{"time":"2011-02-01T13:16","mag":-0.2548},{"time":"2011-02-01T15:51","mag":-0.1378},
{"time":"2011-02-01T19:15","mag":-0.2764},{"time":"2011-02-01T23:20","mag":-0.1711},{"time":"2011-02-02T02:52","mag":-0.2548},{"time":"2011-02-02T05:27","mag":-0.1378},
{"time":"2011-02-02T08:51","mag":-0.2764},{"time":"2011-02-02T12:55","mag":-0.1711},{"time":"2011-02-02T16:27","mag":-0.2548}
],
"moon":[
{"time":"2011-01-19T21:21","phase":"full"},
{"time":"2011-01-26T12:57","phase":"last quarter"}
]
},
"encoding":{
"x":{"field":"time","type":"temporal",
 "scale":{"domain":[{"year":2011,"month":1,"date":14,"hours":6,"minutes":39},{"year":2011,"month":2,"date":2,"hours":13,"minutes":21}],"nice":false},
 "axis":{"values":[{"year":2011,"month":1,"date":15},{"year":2011,"month":1,"date":16},{"year":2011,"month":1,"date":17},{"year":2011,"month":1,"date":18},{"year":2011,"month":1,"date":19},{"year":2011,"month":1,"date":20},{"year":2011,"month":1,"date":21},{"year":2011,"month":1,"date":22},{"year":2011,"month":1,"date":23},{"year":2011,"month":1,"date":24},{"year":2011,"month":1,"date":25},{"year":2011,"month":1,"date":26},{"year":2011,"month":1,"date":27},{"year":2011,"month":1,"date":28},{"year":2011,"month":1,"date":29},{"year":2011,"month":1,"date":30},{"year":2011,"month":1,"date":31},{"year":2011,"month":2,"date":1},{"year":2011,"month":2,"date":2}],
  "format":"%Y-%m-%d","labelAngle":90,"labelAlign":"left","labelBaseline":"alphabetic","labelFontSize":16,"labelFont":"Liberation Sans","labelColor":"#222222","labelPadding":2,"tickSize":11,"tickColor":"#222222","domainColor":"#222222","grid":false,"title":null,"labelOverlap":false,"labelFlush":false,"labelBound":false}}
},
"layer":[
{"data":{"name":"obs"},
 "mark":{"type":"errorbar","ticks":false,"thickness":1},
 "encoding":{
  "y":{"field":"mag","type":"quantitative","scale":{"domain":[-0.35,-0.10],"reverse":true,"nice":false,"zero":false},
   "axis":{"values":[-0.35,-0.3,-0.25,-0.2,-0.15,-0.1],"labelExpr":"replace(format(datum.value,'.2f'),'\u2212','-')","labelFontSize":16,"labelFont":"Liberation Sans","labelColor":"#222222","labelPadding":0,"labelBaseline":"alphabetic","labelOffset":-4,"tickSize":8,"tickColor":"#222222","domainColor":"#222222","grid":false,"labelFlush":false,"labelOverlap":false,"title":"©2026 OdG-RB","titleAngle":90,"titleX":-43,"titleY":552,"titleAlign":"left","titleBaseline":"alphabetic","titleFontSize":8,"titleFontWeight":"bold","titleFont":"Liberation Sans","titleColor":"#222222"}},
  "yError":{"field":"err"},
  "color":{"field":"night","type":"nominal","scale":{"domain":["2011-01-14","2011-01-16","2011-01-17","2011-01-22","2011-01-28","2011-02-01"],"range":["#e8323c","#5bb84a","#f2e51e","#3b57a6","#b2388e","#6fcbdc"]}}}},
{"data":{"name":"obs"},
 "mark":{"type":"point","filled":false,"strokeWidth":1,"size":100,"opacity":1},
 "encoding":{
  "y":{"field":"mag","type":"quantitative","scale":{"domain":[-0.35,-0.10],"reverse":true,"nice":false,"zero":false},
   "axis":{"values":[-0.35,-0.3,-0.25,-0.2,-0.15,-0.1],"labelExpr":"replace(format(datum.value,'.2f'),'\u2212','-')","labelFontSize":16,"labelFont":"Liberation Sans","labelColor":"#222222","labelPadding":0,"labelBaseline":"alphabetic","labelOffset":-4,"tickSize":8,"tickColor":"#222222","domainColor":"#222222","grid":false,"labelFlush":false,"labelOverlap":false,"title":"©2026 OdG-RB","titleAngle":90,"titleX":-43,"titleY":552,"titleAlign":"left","titleBaseline":"alphabetic","titleFontSize":8,"titleFontWeight":"bold","titleFont":"Liberation Sans","titleColor":"#222222"}},
  "color":{"field":"night","type":"nominal","scale":{"domain":["2011-01-14","2011-01-16","2011-01-17","2011-01-22","2011-01-28","2011-02-01"],"range":["#e8323c","#5bb84a","#f2e51e","#3b57a6","#b2388e","#6fcbdc"]},
   "legend":{"title":"Rene Roy","orient":"none","legendX":-40,"legendY":646,"direction":"horizontal","titleOrient":"right","labelExpr":"''","symbolSize":100,"symbolStrokeWidth":1,"columnPadding":-2,"labelOffset":0,"titleFontSize":16,"titleFontWeight":"normal","titleFont":"Liberation Sans","titleColor":"#222222","titlePadding":3,"padding":0}},
  "shape":{"field":"night","type":"nominal","scale":{"domain":["2011-01-14","2011-01-16","2011-01-17","2011-01-22","2011-01-28","2011-02-01"],"range":["circle","M-0.7,-0.7H0.7V0.7H-0.7Z","diamond","M-0.8,-0.8Q0,-0.3 0.8,-0.8Q0.3,0 0.8,0.8Q0,0.3 -0.8,0.8Q-0.3,0 -0.8,-0.8Z","M0,-0.85L0.9,0.75L-0.9,0.75Z","M0,-0.95L0.223,-0.308L0.903,-0.294L0.361,0.118L0.559,0.769L0,0.38L-0.559,0.769L-0.361,0.118L-0.903,-0.294L-0.223,-0.308Z"]},
   "legend":{"title":"Rene Roy","orient":"none","legendX":-40,"legendY":646,"direction":"horizontal","titleOrient":"right","labelExpr":"''","symbolSize":100,"symbolStrokeWidth":1,"columnPadding":-2,"labelOffset":0,"titleFontSize":16,"titleFontWeight":"normal","titleFont":"Liberation Sans","titleColor":"#222222","titlePadding":3,"padding":0}}}},
{"data":{"name":"model"},
 "mark":{"type":"line","color":"#222222","strokeWidth":1,"clip":true},
 "encoding":{
  "y":{"field":"mag","type":"quantitative","scale":{"domain":[-0.35,-0.10],"reverse":true,"nice":false,"zero":false},
   "axis":{"values":[-0.35,-0.3,-0.25,-0.2,-0.15,-0.1],"labelExpr":"replace(format(datum.value,'.2f'),'\u2212','-')","labelFontSize":16,"labelFont":"Liberation Sans","labelColor":"#222222","labelPadding":0,"labelBaseline":"alphabetic","labelOffset":-4,"tickSize":8,"tickColor":"#222222","domainColor":"#222222","grid":false,"labelFlush":false,"labelOverlap":false,"title":"©2026 OdG-RB","titleAngle":90,"titleX":-43,"titleY":552,"titleAlign":"left","titleBaseline":"alphabetic","titleFontSize":8,"titleFontWeight":"bold","titleFont":"Liberation Sans","titleColor":"#222222"}}}},
{"data":{"name":"moon"},
 "transform":[{"filter":"datum.phase === 'full'"}],
 "mark":{"type":"point","shape":"circle","filled":false,"size":25,"stroke":"#222222","strokeWidth":1,"clip":false},
 "encoding":{"y":{"datum":-0.0972,"type":"quantitative","scale":{"domain":[-0.35,-0.10],"reverse":true,"nice":false,"zero":false},
   "axis":{"values":[-0.35,-0.3,-0.25,-0.2,-0.15,-0.1],"labelExpr":"replace(format(datum.value,'.2f'),'\u2212','-')","labelFontSize":16,"labelFont":"Liberation Sans","labelColor":"#222222","labelPadding":0,"labelBaseline":"alphabetic","labelOffset":-4,"tickSize":8,"tickColor":"#222222","domainColor":"#222222","grid":false,"labelFlush":false,"labelOverlap":false,"title":"©2026 OdG-RB","titleAngle":90,"titleX":-43,"titleY":552,"titleAlign":"left","titleBaseline":"alphabetic","titleFontSize":8,"titleFontWeight":"bold","titleFont":"Liberation Sans","titleColor":"#222222"}}}},
{"data":{"name":"moon"},
 "transform":[{"filter":"datum.phase === 'last quarter'"}],
 "mark":{"type":"point","shape":"M0.5,-0.875L0.5,0.75M0.5,0.15A0.575,0.575 0 1 0 -0.65,0.15A0.575,0.575 0 1 0 0.5,0.15","filled":false,"size":64,"stroke":"#222222","strokeWidth":1,"clip":false},
 "encoding":{"y":{"datum":-0.0972,"type":"quantitative","scale":{"domain":[-0.35,-0.10],"reverse":true,"nice":false,"zero":false},
   "axis":{"values":[-0.35,-0.3,-0.25,-0.2,-0.15,-0.1],"labelExpr":"replace(format(datum.value,'.2f'),'\u2212','-')","labelFontSize":16,"labelFont":"Liberation Sans","labelColor":"#222222","labelPadding":0,"labelBaseline":"alphabetic","labelOffset":-4,"tickSize":8,"tickColor":"#222222","domainColor":"#222222","grid":false,"labelFlush":false,"labelOverlap":false,"title":"©2026 OdG-RB","titleAngle":90,"titleX":-43,"titleY":552,"titleAlign":"left","titleBaseline":"alphabetic","titleFontSize":8,"titleFontWeight":"bold","titleFont":"Liberation Sans","titleColor":"#222222"}}}}
]
}
